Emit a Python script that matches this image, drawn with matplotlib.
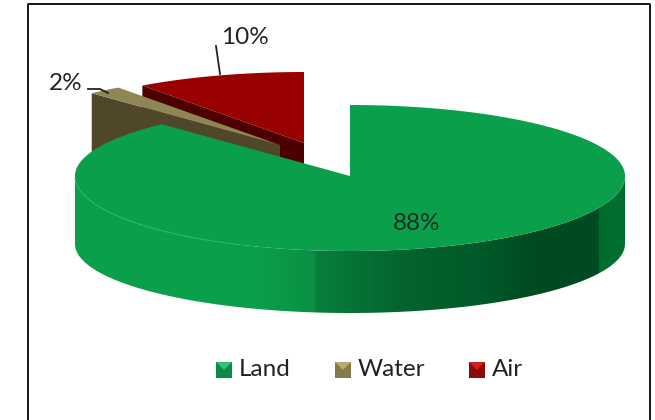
import numpy as np
import matplotlib.pyplot as plt
from matplotlib.colors import LinearSegmentedColormap
from matplotlib.patches import Polygon

# values
labels = ['Land', 'Water', 'Air']
values = [88, 2, 10]
top_colors = ['#0aa04b', '#8f8655', '#990000']
side_colors = ['#00632c', '#50462a', '#4d0000']

plt.rcParams['font.family'] = ['Lato', 'DejaVu Sans']

fig = plt.figure(figsize=(6.55, 4.2), dpi=100)
ax = fig.add_axes([0, 0, 1, 1])
ax.set_xlim(0, 655)
ax.set_ylim(420, 0)
ax.axis('off')

# frame has no bottom edge in the picture
ax.plot([28, 28, 650, 650], [420, 4, 4, 420], color='black', linewidth=1.3, zorder=1)

# slice centres (exploded ones are shifted)
centers = [(350, 176), (280, 145), (304, 143)]
RX = 275
RY_BACK = 71
RY_FRONT = 75
DEPTH = 68


def rim(cx, cy, t, rx=RX, back=RY_BACK, front=RY_FRONT):
    # t = degrees clockwise from 12 o'clock
    t = np.radians(t)
    ry = np.where(np.cos(t) > 0, back, front)
    return cx + rx * np.sin(t), cy - ry * np.cos(t)


# slice angles from the values
edges = np.cumsum([0] + values) / sum(values) * 360

# air and water sit behind land
for i in [2, 1]:
    cx, cy = centers[i]
    t = np.linspace(edges[i], edges[i + 1], 40)
    x, y = rim(cx, cy, t)
    # cut face towards the viewer
    x0, y0 = rim(cx, cy, edges[i])
    cut = [(x0, y0), (cx, cy), (cx, cy + DEPTH), (x0, y0 + DEPTH)]
    ax.add_patch(Polygon(cut, closed=True, fc=side_colors[i], ec='none', zorder=2 + (2 - i) * 2))
    top = np.column_stack([np.r_[cx, x], np.r_[cy, y]])
    ax.add_patch(Polygon(top, closed=True, fc=top_colors[i], ec='none', zorder=3 + (2 - i) * 2))

# land side wall with horizontal gradient
cx, cy = centers[0]
t = np.linspace(90, 270, 200)
x, y = rim(cx, cy, t)
x2, y2 = rim(cx, cy + DEPTH, t, front=RY_FRONT - 6)
wall = np.column_stack([np.r_[x, x2[::-1]], np.r_[y, y2[::-1]]])
wall_patch = Polygon(wall, closed=True, fc='none', ec='none', zorder=8)
ax.add_patch(wall_patch)
wall_cmap = LinearSegmentedColormap.from_list('wall', [
    (0.00, '#0aa04b'), (0.33, '#0a9f4a'), (0.435, '#0a8f44'), (0.437, '#087f3c'),
    (0.59, '#05642f'), (0.736, '#005a29'), (0.827, '#004b22'), (0.954, '#004a22'),
    (0.956, '#006b30'), (1.00, '#00702f')])
im = ax.imshow(np.linspace(0, 1, 1100).reshape(1, -1), cmap=wall_cmap, aspect='auto',
               extent=(75, 625, 420, 0), zorder=8)
im.set_clip_path(wall_patch)
ax.set_xlim(0, 655)
ax.set_ylim(420, 0)

# land top face
t = np.linspace(edges[0], edges[1], 400)
x, y = rim(cx, cy, t)
top = np.column_stack([np.r_[cx, x], np.r_[cy, y]])
ax.add_patch(Polygon(top, closed=True, fc=top_colors[0], ec='none', zorder=9))

# thin light rim on the left part of the front edge
t = np.linspace(205, 268, 60)
x, y = rim(cx, cy, t)
ax.plot(x, y, color='#2db46a', linewidth=0.8, zorder=9.5)

# percent labels
ax.text(417, 224, f'{values[0]}%', fontsize=17.5, color='#12301f', ha='center', va='center', zorder=10)
ax.text(66, 83, f'{values[1]}%', fontsize=17.5, color='#222222', ha='center', va='center', zorder=10)
ax.text(245, 37, f'{values[2]}%', fontsize=17.5, color='#222222', ha='center', va='center', zorder=10)

# leader lines
ax.plot([88, 100, 108], [89, 89, 93], color='#222222', linewidth=1.3, zorder=10)
ax.plot([216, 220], [46, 74], color='#222222', linewidth=1.3, zorder=10)

# legend
legend_x = [216, 335, 469]
legend_light = ['#2fc070', '#b5ac6e', '#d02020']
legend_dark = ['#0a8a45', '#837b4b', '#8a0808']
for i in range(3):
    lx = legend_x[i]
    ax.add_patch(Polygon([(lx, 362), (lx + 16, 362), (lx + 16, 378), (lx, 378)],
                         closed=True, fc=legend_dark[i], ec='none', zorder=10))
    ax.add_patch(Polygon([(lx, 362), (lx + 16, 362), (lx + 8, 370)],
                         closed=True, fc=legend_light[i], ec='none', zorder=11))
    ax.text(lx + 23, 370, labels[i], fontsize=17.5, color='#222222', ha='left', va='center', zorder=10)

fig.savefig('out.png', dpi=100)
